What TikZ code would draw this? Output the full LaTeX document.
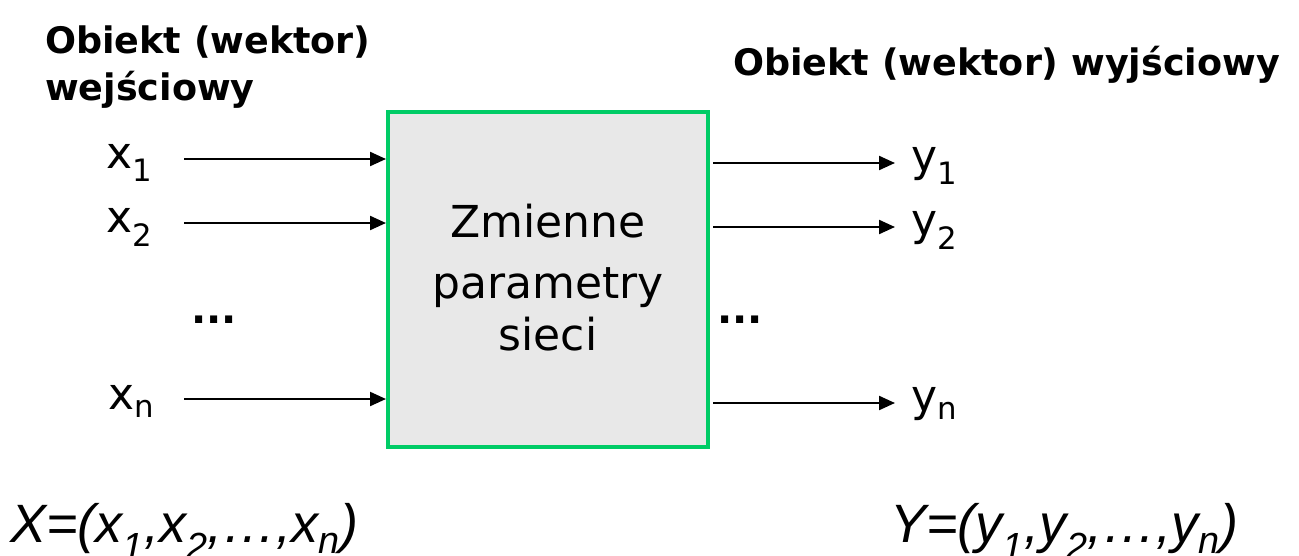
\documentclass[tikz,border=0pt]{standalone}
\usepackage{fontspec}
\setmainfont{DejaVu Sans}
\newfontfamily\formfont{Liberation Sans}
\usetikzlibrary{arrows.meta}
\definecolor{boxgreen}{RGB}{0,204,102}
\definecolor{boxfill}{RGB}{232,232,232}
\tikzset{
  lbl/.style={anchor=base west, inner sep=0pt, font=\fontsize{44}{48}\selectfont},
  ttl/.style={anchor=base west, inner sep=0pt, font=\fontsize{36.5}{40}\bfseries\selectfont},
  boxtxt/.style={anchor=base, inner sep=0pt, font=\fontsize{44}{48}\selectfont},
  frm/.style={anchor=base west, inner sep=0pt, font=\formfont\itshape\fontsize{54}{58}\selectfont},
  dots/.style={anchor=base, inner sep=0pt, font=\fontsize{40}{44}\bfseries\selectfont},
  arr/.style={line width=2.2pt, -{Triangle[length=16pt,width=14pt]}},
}
\begin{document}
\begin{tikzpicture}[x=1pt,y=-1pt]
\useasboundingbox (0,0) rectangle (1299,555);
% box
\node[draw=boxgreen, fill=boxfill, line width=4pt, minimum width=320pt, minimum height=335pt, inner sep=0pt] (net) at (548,279) {};
\node[boxtxt] (nt1) at (548,237) {Zmienne};
\node[boxtxt] (nt2) at (548,298) {parametry};
\node[boxtxt] (nt3) at (548,350) {sieci};
% titles
\node[ttl] (tin1) at (45,53) {Obiekt (wektor)};
\node[ttl] (tin2) at (45,100) {wejściowy};
\node[ttl] (tout) at (733,75) {Obiekt (wektor) wyjściowy};
% input labels
\node[lbl] (x1) at (106,168) {x\textsubscript{1}};
\node[lbl] (x2) at (106,232) {x\textsubscript{2}};
\node[lbl] (xn) at (108,409) {x\textsubscript{n}};
\node[dots] (ldots) at (214,323) {...};
% output labels
\node[lbl] (y1) at (911,171) {y\textsubscript{1}};
\node[lbl] (y2) at (911,235) {y\textsubscript{2}};
\node[lbl] (yn) at (911,411) {y\textsubscript{n}};
\node[dots] (rdots) at (740,323) {...};
% arrow ends
\coordinate (s1) at (184,159);
\coordinate (s2) at (184,223);
\coordinate (sn) at (184,399);
\coordinate (o1) at (713,163);
\coordinate (o2) at (713,227);
\coordinate (on) at (713,403);
\coordinate (e1) at (895,163);
\coordinate (e2) at (895,227);
\coordinate (en) at (895,403);
\draw[arr] (s1) -- (s1 -| net.west);
\draw[arr] (s2) -- (s2 -| net.west);
\draw[arr] (sn) -- (sn -| net.west);
\draw[arr] (o1) -- (e1);
\draw[arr] (o2) -- (e2);
\draw[arr] (on) -- (en);
% formulas
\node[frm] (fx) at (10,542) {X=(x\textsubscript{1},x\textsubscript{2},…,x\textsubscript{n})};
\node[frm] (fy) at (890,542) {Y=(y\textsubscript{1},y\textsubscript{2},…,y\textsubscript{n})};
\end{tikzpicture}
\end{document}
